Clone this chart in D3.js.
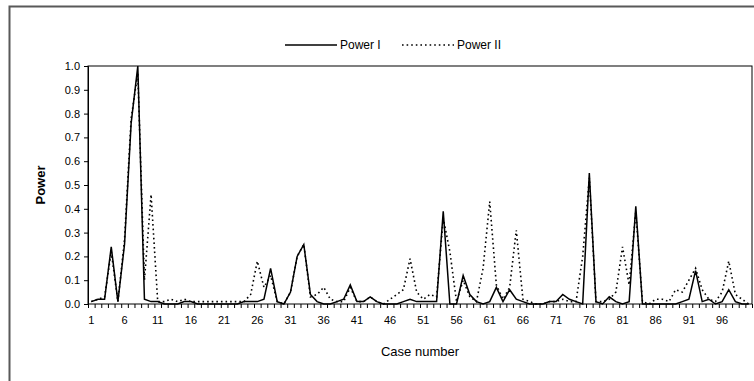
<!DOCTYPE html>
<html>
<head>
<meta charset="utf-8">
<script src="https://cdn.jsdelivr.net/npm/d3@7"></script>
<style>
  body { margin: 0; background: #fff; }
  svg { display: block; font-family: "Liberation Sans", Arial, sans-serif; }
</style>
</head>
<body>
<svg id="chart" width="754" height="381"></svg>
<script>
// case numbers and the two power series
const cases = d3.range(1, 101);
const tick_cases = [1, 6, 11, 16, 21, 26, 31, 36, 41, 46, 51, 56, 61, 66, 71, 76, 81, 86, 91, 96];
const y_ticks = [0, 0.1, 0.2, 0.3, 0.4, 0.5, 0.6, 0.7, 0.8, 0.9, 1.0];

const power_1 = [
    0.01, 0.02, 0.02, 0.24, 0.01, 0.25, 0.76, 1.00, 0.02, 0.01,
    0.01, 0.00, 0.00, 0.00, 0.01, 0.01, 0.00, 0.00, 0.00, 0.00,
    0.00, 0.00, 0.00, 0.01, 0.01, 0.01, 0.02, 0.15, 0.01, 0.00,
    0.05, 0.20, 0.25, 0.04, 0.01, 0.00, 0.00, 0.01, 0.02, 0.08,
    0.01, 0.01, 0.03, 0.01, 0.00, 0.00, 0.00, 0.01, 0.02, 0.01,
    0.01, 0.01, 0.01, 0.39, 0.00, 0.00, 0.12, 0.04, 0.01, 0.00,
    0.01, 0.07, 0.01, 0.06, 0.02, 0.01, 0.00, 0.00, 0.00, 0.01,
    0.01, 0.04, 0.02, 0.01, 0.00, 0.55, 0.01, 0.00, 0.03, 0.01,
    0.00, 0.01, 0.41, 0.00, 0.00, 0.00, 0.00, 0.00, 0.00, 0.01,
    0.02, 0.14, 0.01, 0.02, 0.00, 0.01, 0.06, 0.01, 0.00, 0.00
];

const power_2 = [
    0.01, 0.02, 0.03, 0.22, 0.01, 0.27, 0.78, 0.97, 0.10, 0.46,
    0.01, 0.01, 0.02, 0.01, 0.02, 0.01, 0.01, 0.01, 0.01, 0.01,
    0.01, 0.01, 0.01, 0.01, 0.04, 0.18, 0.07, 0.12, 0.01, 0.00,
    0.05, 0.20, 0.25, 0.03, 0.04, 0.07, 0.02, 0.01, 0.01, 0.07,
    0.01, 0.01, 0.03, 0.01, 0.00, 0.02, 0.04, 0.06, 0.19, 0.05,
    0.02, 0.04, 0.03, 0.36, 0.22, 0.01, 0.10, 0.03, 0.01, 0.15,
    0.43, 0.08, 0.02, 0.07, 0.31, 0.02, 0.01, 0.00, 0.00, 0.01,
    0.01, 0.02, 0.01, 0.01, 0.20, 0.53, 0.01, 0.01, 0.02, 0.05,
    0.24, 0.08, 0.39, 0.01, 0.00, 0.02, 0.02, 0.01, 0.06, 0.05,
    0.10, 0.15, 0.06, 0.02, 0.01, 0.05, 0.18, 0.04, 0.02, 0.00
];

const svg = d3.select('#chart');
const plot = { left: 88, right: 752, top: 66, bottom: 304 };

// outer frame (only left and top edges are visible)
svg.append('path')
    .attr('d', 'M9.5,381V6.5H754')
    .attr('fill', 'none')
    .attr('stroke', '#595959')
    .attr('stroke-width', 2);

const x = d3.scaleBand()
    .domain(cases)
    .range([plot.left, plot.right])
    .padding(0);

const x_edges = d3.scaleLinear()
    .domain([0, cases.length])
    .range([plot.left, plot.right]);

const y = d3.scaleLinear()
    .domain([0, 1])
    .range([plot.bottom, plot.top]);

// plot frame
svg.append('rect')
    .attr('x', plot.left)
    .attr('y', plot.top)
    .attr('width', plot.right - plot.left)
    .attr('height', plot.bottom - plot.top)
    .attr('fill', 'none')
    .attr('stroke', '#000')
    .attr('stroke-width', 1);

// y axis
const y_axis = svg.append('g')
    .attr('transform', `translate(${plot.left},0)`)
    .call(d3.axisLeft(y).tickValues(y_ticks).tickFormat(d3.format('.1f')).tickSize(4).tickPadding(4));
y_axis.selectAll('text').style('font-size', '11px').attr('fill', '#000');

// x axis: tick marks between categories
const x_ticks = svg.append('g')
    .attr('transform', `translate(0,${plot.bottom})`)
    .call(d3.axisBottom(x_edges).tickValues(d3.range(0, cases.length + 1)).tickSize(4).tickFormat(''));
x_ticks.select('.domain').remove();

const x_labels = svg.append('g')
    .attr('transform', `translate(0,${plot.bottom})`)
    .call(d3.axisBottom(x).tickValues(tick_cases).tickSize(0).tickPadding(12));
x_labels.select('.domain').remove();
x_labels.selectAll('text').style('font-size', '11px').attr('fill', '#000');

svg.selectAll('.domain').attr('stroke', '#000');
svg.selectAll('.tick line').attr('stroke', '#000');

// axis titles
svg.append('text')
    .attr('x', (plot.left + plot.right) / 2)
    .attr('y', 356)
    .attr('text-anchor', 'middle')
    .style('font-size', '13px')
    .text('Case number');

svg.append('text')
    .attr('transform', `translate(45,${(plot.top + plot.bottom) / 2}) rotate(-90)`)
    .attr('text-anchor', 'middle')
    .style('font-size', '13px')
    .style('font-weight', 'bold')
    .text('Power');

// lines
const line = d3.line()
    .x((d, i) => x(cases[i]) + x.bandwidth() / 2)
    .y(d => y(d));

svg.append('path')
    .datum(power_2)
    .attr('d', line)
    .attr('fill', 'none')
    .attr('stroke', '#000')
    .attr('stroke-width', 1.6)
    .attr('stroke-dasharray', '1.6,3');

svg.append('path')
    .datum(power_1)
    .attr('d', line)
    .attr('fill', 'none')
    .attr('stroke', '#000')
    .attr('stroke-width', 1.5);

// legend
const legend_items = [
    { label: 'Power I', dash: null, x: 285 },
    { label: 'Power II', dash: '1.6,3', x: 402 },
];
const legend = svg.append('g').attr('transform', 'translate(0,45)');
legend_items.forEach(d => {
    legend.append('line')
        .attr('x1', d.x).attr('x2', d.x + 52)
        .attr('y1', 0).attr('y2', 0)
        .attr('stroke', '#000')
        .attr('stroke-width', 1.5)
        .attr('stroke-dasharray', d.dash);
    legend.append('text')
        .attr('x', d.x + 55)
        .attr('y', 4)
        .style('font-size', '12px')
        .text(d.label);
});
</script>
</body>
</html>
